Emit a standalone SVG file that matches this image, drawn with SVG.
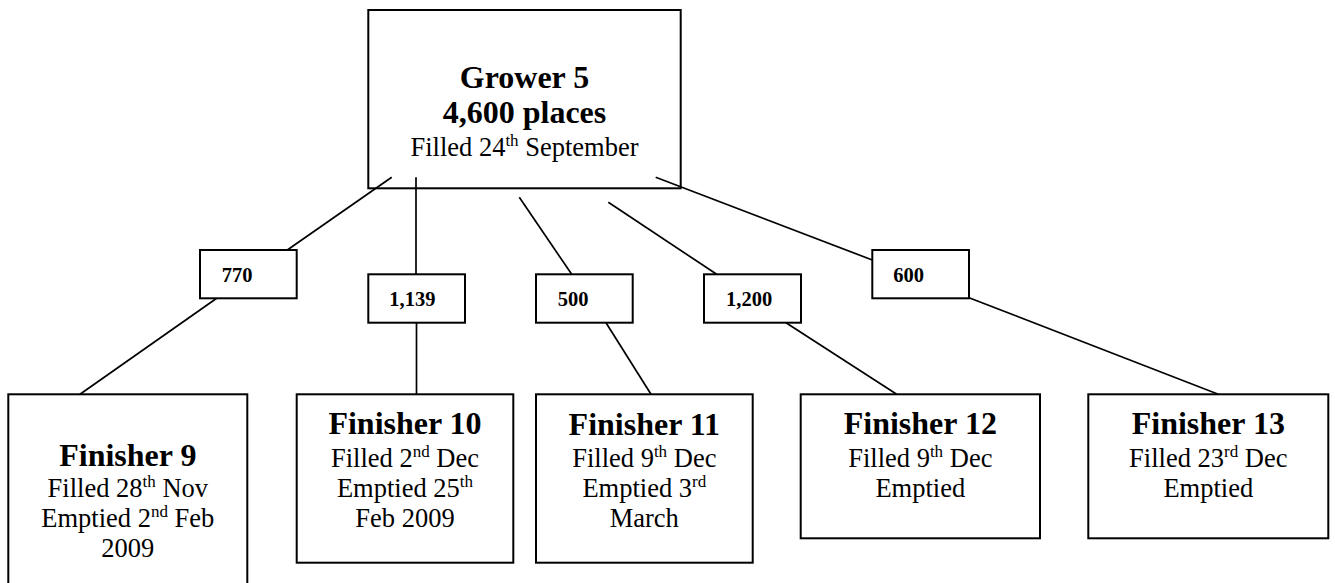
<svg xmlns="http://www.w3.org/2000/svg" width="1335" height="583" viewBox="0 0 1335 583">
<style>
.box{fill:#fff;stroke:#000;stroke-width:2}
.lbl{fill:#fff;stroke:#000;stroke-width:2}
.t{font-family:"Liberation Serif","Times New Roman",serif;fill:#000}
.h{font-size:32px;font-weight:bold;text-anchor:middle}
.r{font-size:26.5px;text-anchor:middle}
.n{font-size:20.5px;font-weight:bold}
.sup{font-size:17px}
#connectors line{stroke:#000;stroke-width:1.7}
</style>
<rect width="1335" height="583" fill="#fff"/>
<g id="grower5">
<rect class="box" x="368.3" y="10" width="312.4" height="178.3"/>
<text class="t h" x="524.5" y="88">Grower 5</text>
<text class="t h" x="524.5" y="123">4,600 places</text>
<text class="t r" x="524.5" y="156">Filled 24<tspan class="sup" dy="-10">th</tspan><tspan dy="10"> September</tspan></text>
</g>
<g id="label770"><rect class="lbl" x="200" y="250" width="96.7" height="48.3"/><text class="t n" x="221.7" y="281.7">770</text></g>
<g id="label1139"><rect class="lbl" x="368.3" y="274.3" width="96.7" height="48.4"/><text class="t n" x="389.3" y="306">1,139</text></g>
<g id="label500"><rect class="lbl" x="536" y="274.3" width="96.7" height="48.4"/><text class="t n" x="557.7" y="306">500</text></g>
<g id="label1200"><rect class="lbl" x="704" y="274.3" width="97" height="48.4"/><text class="t n" x="726" y="306">1,200</text></g>
<g id="label600"><rect class="lbl" x="872.3" y="250" width="96.7" height="48.3"/><text class="t n" x="893.3" y="281.7">600</text></g>
<g id="finisher9">
<rect class="box" x="8.3" y="394.3" width="239" height="200"/>
<text class="t h" x="127.8" y="466">Finisher 9</text>
<text class="t r" x="127.8" y="496.7">Filled 28<tspan class="sup" dy="-10">th</tspan><tspan dy="10"> Nov</tspan></text>
<text class="t r" x="127.8" y="527">Emptied 2<tspan class="sup" dy="-10">nd</tspan><tspan dy="10"> Feb</tspan></text>
<text class="t r" x="127.8" y="557">2009</text>
</g>
<g id="finisher10">
<rect class="box" x="296.7" y="394.3" width="216.6" height="168.4"/>
<text class="t h" x="405" y="434">Finisher 10</text>
<text class="t r" x="405" y="467">Filled 2<tspan class="sup" dy="-10">nd</tspan><tspan dy="10"> Dec</tspan></text>
<text class="t r" x="405" y="497">Emptied 25<tspan class="sup" dy="-10">th</tspan></text>
<text class="t r" x="405" y="527">Feb 2009</text>
</g>
<g id="finisher11">
<rect class="box" x="536" y="394.3" width="216.7" height="168.4"/>
<text class="t h" x="644.3" y="434.5">Finisher 11</text>
<text class="t r" x="644.3" y="467">Filled 9<tspan class="sup" dy="-10">th</tspan><tspan dy="10"> Dec</tspan></text>
<text class="t r" x="644.3" y="497">Emptied 3<tspan class="sup" dy="-10">rd</tspan></text>
<text class="t r" x="644.3" y="527">March</text>
</g>
<g id="finisher12">
<rect class="box" x="800.7" y="394.3" width="239.3" height="144"/>
<text class="t h" x="920.3" y="434">Finisher 12</text>
<text class="t r" x="920.3" y="467">Filled 9<tspan class="sup" dy="-10">th</tspan><tspan dy="10"> Dec</tspan></text>
<text class="t r" x="920.3" y="497">Emptied</text>
</g>
<g id="finisher13">
<rect class="box" x="1088.3" y="394.3" width="240" height="144"/>
<text class="t h" x="1208.3" y="434">Finisher 13</text>
<text class="t r" x="1208.3" y="467">Filled 23<tspan class="sup" dy="-10">rd</tspan><tspan dy="10"> Dec</tspan></text>
<text class="t r" x="1208.3" y="497">Emptied</text>
</g>
<g id="connectors">
<line x1="391.7" y1="177.3" x2="287.3" y2="250"/>
<line x1="216.7" y1="298.3" x2="80" y2="394.3"/>
<line x1="416" y1="177.3" x2="416" y2="274.3"/>
<line x1="416.5" y1="322.7" x2="416.5" y2="394.3"/>
<line x1="519.3" y1="197.3" x2="571.7" y2="274.3"/>
<line x1="606" y1="322.7" x2="651" y2="394.3"/>
<line x1="608.3" y1="202.3" x2="716.7" y2="274.3"/>
<line x1="786" y1="322.7" x2="896.7" y2="394.3"/>
<line x1="655.7" y1="177.3" x2="872.3" y2="260"/>
<line x1="969" y1="297.7" x2="1218.3" y2="394.3"/>
</g>
</svg>
